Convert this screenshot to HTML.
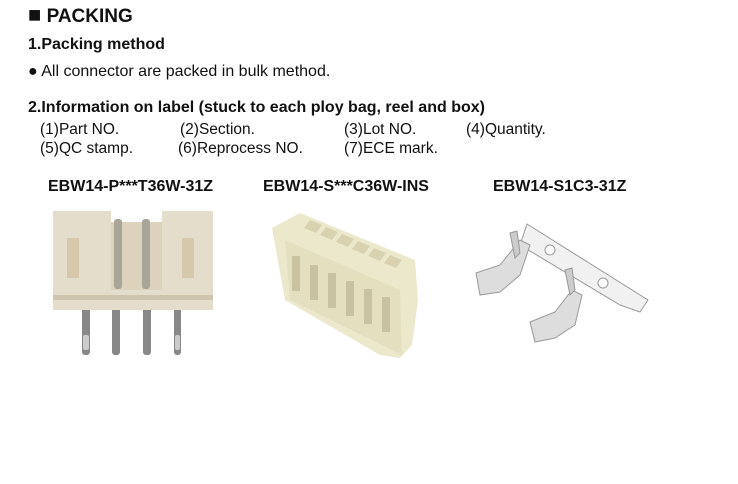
<!DOCTYPE html>
<html><head><style>
body{margin:0;width:738px;height:484px;background:#fff;font-family:"Liberation Sans",sans-serif;color:#111;position:relative;overflow:hidden}
.t{position:absolute;white-space:nowrap}
.b{font-weight:bold}
</style></head><body>
<div class="t b" style="left:28px;top:5px;font-size:19px"><span style="font-size:22px;line-height:19px">&#9632;</span> PACKING</div>
<div class="t b" style="left:28px;top:36px;font-size:16px">1.Packing method</div>
<div class="t" style="left:28px;top:63px;font-size:16px">&#9679; All connector are packed in bulk method.</div>
<div class="t b" style="left:28px;top:99px;font-size:16px">2.Information on label (stuck to each ploy bag, reel and box)</div>
<div class="t" style="left:40px;top:121px;font-size:15.5px">(1)Part NO.</div>
<div class="t" style="left:180px;top:121px;font-size:15.5px">(2)Section.</div>
<div class="t" style="left:344px;top:121px;font-size:15.5px">(3)Lot NO.</div>
<div class="t" style="left:466px;top:121px;font-size:15.5px">(4)Quantity.</div>
<div class="t" style="left:40px;top:140px;font-size:15.5px">(5)QC stamp.</div>
<div class="t" style="left:178px;top:140px;font-size:15.5px">(6)Reprocess NO.</div>
<div class="t" style="left:344px;top:140px;font-size:15.5px">(7)ECE mark.</div>
<div class="t b" style="left:48px;top:178px;font-size:16px">EBW14-P***T36W-31Z</div>
<div class="t b" style="left:263px;top:178px;font-size:16px">EBW14-S***C36W-INS</div>
<div class="t b" style="left:493px;top:178px;font-size:16px">EBW14-S1C3-31Z</div>
<svg width="738" height="484" style="position:absolute;left:0;top:0">
<g>
<rect x="82" y="305" width="8" height="50" rx="3" fill="#888"/>
<rect x="112" y="305" width="8" height="50" rx="3" fill="#888"/>
<rect x="143" y="305" width="8" height="50" rx="3" fill="#888"/>
<rect x="174" y="305" width="7" height="50" rx="3" fill="#888"/>
<rect x="83" y="335" width="6" height="15" rx="2" fill="#ccc"/>
<rect x="175" y="335" width="5" height="15" rx="2" fill="#ccc"/>
<path d="M53 211 H111 V222 H162 V211 H213 V310 H53 Z" fill="#e4ddcc"/>
<rect x="53" y="295" width="160" height="5" fill="#cfc5ae"/>
<rect x="67" y="238" width="12" height="40" fill="#d6c9ab"/>
<rect x="182" y="238" width="12" height="40" fill="#d6c9ab"/>
<rect x="111" y="222" width="51" height="68" fill="#ddd3bd"/>
<rect x="114" y="219" width="8" height="70" rx="3" fill="#a9a598"/>
<rect x="142" y="219" width="8" height="70" rx="3" fill="#a9a598"/>
</g>
<g>
<path d="M272 228 L300 213 L415 260 L418 300 L412 345 L400 358 L380 355 L285 300 Z" fill="#ece8cc"/>
<path d="M285 240 L400 290 L402 355 L290 300 Z" fill="#e4dfbe"/>
<g fill="#c9c2a0">
<rect x="292" y="256" width="8" height="35"/><rect x="310" y="265" width="8" height="35"/><rect x="328" y="273" width="8" height="35"/><rect x="346" y="281" width="8" height="35"/><rect x="364" y="289" width="8" height="35"/><rect x="382" y="297" width="8" height="35"/>
</g>
<g fill="#d8d2b0">
<path d="M310 220 l12 5 -6 8 -12 -5z"/><path d="M326 227 l12 5 -6 8 -12 -5z"/><path d="M342 234 l12 5 -6 8 -12 -5z"/><path d="M358 241 l12 5 -6 8 -12 -5z"/><path d="M374 248 l12 5 -6 8 -12 -5z"/><path d="M390 255 l12 5 -6 8 -12 -5z"/>
</g>
</g>
<g stroke="#999" stroke-width="1" fill="#f1f1f1">
<path d="M527 224 L648 300 L640 312 L620 305 L520 245 Z"/>
<circle cx="550" cy="250" r="5" fill="#fff"/><circle cx="603" cy="283" r="5" fill="#fff"/>
<path d="M476 273 L500 265 L520 240 L530 245 L520 275 L500 292 L480 295 Z" fill="#ddd"/>
<path d="M530 322 L555 312 L572 290 L582 295 L575 325 L555 338 L535 342 Z" fill="#ddd"/>
<path d="M510 233 l5 25 5 -5 -3 -22z" fill="#ccc"/>
<path d="M565 270 l5 25 5 -5 -3 -22z" fill="#ccc"/>
</g>
</svg>
</body></html>
